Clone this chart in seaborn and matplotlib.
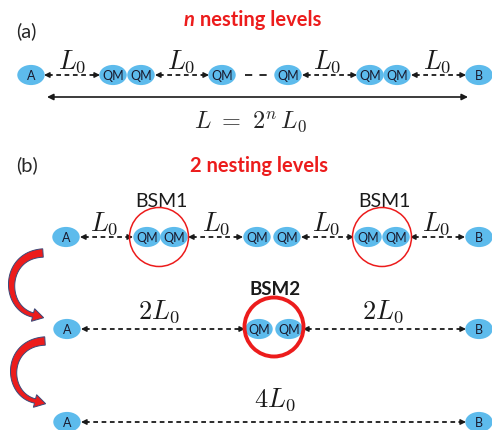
import numpy as np
import pandas as pd
import matplotlib
matplotlib.use('Agg')
import matplotlib.pyplot as plt
import seaborn as sns
from matplotlib.path import Path
from matplotlib.transforms import Affine2D
from matplotlib.patches import Circle

# row heights (pixel coords, y down)
row_y = [76, 238, 330, 423]

# nodes per row: labels and x centres
row_labels = [
    ['A', 'QM', 'QM', 'QM', 'QM', 'QM', 'QM', 'B'],
    ['A', 'QM', 'QM', 'QM', 'QM', 'QM', 'QM', 'B'],
    ['A', 'QM', 'QM', 'B'],
    ['A', 'B'],
]
row_x = [
    [31, 113, 141, 222, 288, 370, 397, 479],
    [66, 147, 174, 257, 287, 368, 396, 479],
    [67, 259, 289, 479],
    [67, 479],
]

# dashed links (start, end) per row
row_links = [
    [(44, 100), (155, 209), (302, 357), (411, 466)],
    [(80, 133), (188, 243), (301, 354), (410, 465)],
    [(81, 245), (303, 466)],
    [(81, 466)],
]

# distance labels per row
dist_text = [
    [r'$L_0$'] * 4,
    [r'$L_0$'] * 4,
    [r'$2L_0$'] * 2,
    [r'$4L_0$'],
]
dist_x = [
    [72, 181, 327, 437],
    [104, 216, 326, 436],
    [159, 383],
    [275],
]
dist_y = [62, 224, 312, 400]

# bell-state measurement circles
bsm_labels = ['BSM1', 'BSM1', 'BSM2']
bsm_x = [159, 382, 274]
bsm_y = [238, 238, 328]

sns.set_theme(style='white')
plt.rcParams['font.family'] = ['Lato', 'DejaVu Sans']
plt.rcParams['mathtext.fontset'] = 'cm'

fig = plt.figure(figsize=(4.92, 4.31), dpi=100)
ax = fig.add_axes([0, 0, 1, 1])

blue = '#5DBBEC'
red = '#EC1C1C'

# dashed double arrows
def dash_arrow(x1, x2, y):
    ax.plot([x1 + 4, x2 - 4], [y, y], color='k', lw=1.3, ls=(0, (2.6, 2.0)),
            dash_capstyle='butt', zorder=2)
    for a, b in [(x1 + 7, x1), (x2 - 7, x2)]:
        ax.annotate('', xy=(b, y), xytext=(a, y),
                    arrowprops=dict(arrowstyle='-|>', color='k', lw=1.0,
                                    mutation_scale=8, shrinkA=0, shrinkB=0))

for y, links in zip(row_y, row_links):
    for x1, x2 in links:
        dash_arrow(x1, x2, y)

# "- -" gap in row (a)
ax.plot([245, 267], [76, 76], color='k', lw=1.3, ls=(0, (4.0, 4.0)))

# nodes via seaborn scatter with an elliptic marker
ell = Path.unit_circle().transformed(Affine2D().scale(1.36, 1.0))
nodes = pd.DataFrame({
    'x': [x for xs in row_x for x in xs],
    'y': [y for y, xs in zip(row_y, row_x) for _ in xs],
    'label': [l for ls in row_labels for l in ls],
})
sns.scatterplot(data=nodes, x='x', y='y', marker=ell, s=390, color=blue,
                edgecolor='none', linewidth=0, ax=ax, zorder=3, legend=False)
for _, r in nodes.iterrows():
    ax.text(r['x'], r['y'] + 0.5, r['label'], ha='center', va='center',
            fontsize=9, color='#1a1a2e', zorder=4)
ax.set_xlim(0, 492)
ax.set_ylim(431, 0)
ax.axis('off')

# distance labels
for y, xs, ts in zip(dist_y, dist_x, dist_text):
    for x, t in zip(xs, ts):
        ax.text(x, y, t, ha='center', va='center', fontsize=19, color='k')

# total length arrow in (a)
ax.annotate('', xy=(468, 98), xytext=(47, 98),
            arrowprops=dict(arrowstyle='<|-|>', color='k', lw=1.2,
                            mutation_scale=9, shrinkA=0, shrinkB=0))
ax.text(251, 122, r'$L\ =\ 2^n\,L_0$', ha='center', va='center', fontsize=17.5)

# BSM circles
for lab, x, y in zip(bsm_labels, bsm_x, bsm_y):
    thick = lab == 'BSM2'
    ax.add_patch(Circle((x, y), 29.5, fill=False, ec=red,
                        lw=2.8 if thick else 1.1, zorder=5))
    ax.text(x + (1 if thick else 2), y - (38 if thick else 36), lab,
            ha='center', va='center', fontsize=13.5 if thick else 14,
            fontweight='bold' if thick else 'normal', color='k')

# panel labels and titles
ax.text(16, 31, '(a)', ha='left', va='center', fontsize=14.5)
ax.text(16, 165, '(b)', ha='left', va='center', fontsize=14.5)
t_n = ax.text(184, 20, 'n', ha='left', va='center', fontsize=14.5,
              fontweight='bold', fontstyle='italic', color=red)
ax.annotate(' nesting levels', xy=(1, 0.5), xycoords=t_n, ha='left',
            va='center', fontsize=14.5, fontweight='bold', color=red)
ax.text(259, 166, '2 nesting levels', ha='center', va='center', fontsize=14.5,
        fontweight='bold', color=red)

# curved transition arrows (tapered band + head)
def curved_arrow(xa, y1, y2):
    p0 = np.array([xa, y1])
    p1 = np.array([xa - 40, y1 + 2])
    p2 = np.array([xa - 40, y2 - 10])
    p3 = np.array([xa - 10, y2 - 3])
    t = np.linspace(0, 1, 80)[:, None]
    pts = (1 - t) ** 3 * p0 + 3 * (1 - t) ** 2 * t * p1 + 3 * (1 - t) * t ** 2 * p2 + t ** 3 * p3
    d = np.gradient(pts, axis=0)
    d /= np.linalg.norm(d, axis=1)[:, None]
    nrm = np.column_stack([-d[:, 1], d[:, 0]])
    half = np.linspace(4.2, 2.2, len(pts))[:, None]
    outer = pts + nrm * half
    inner = pts - nrm * half
    tip_dir = d[-1]
    tip_n = np.array([-tip_dir[1], tip_dir[0]])
    head = [p3 + tip_n * 6.5, p3 + tip_dir * 11, p3 - tip_n * 6.5]
    poly = np.vstack([outer, head, inner[::-1]])
    ax.fill(poly[:, 0], poly[:, 1], fc=red, ec='#3a4a7a', lw=0.7, zorder=3)

curved_arrow(43, 254, 319)
curved_arrow(45, 342, 405)

fig.savefig('out.png', dpi=100)
